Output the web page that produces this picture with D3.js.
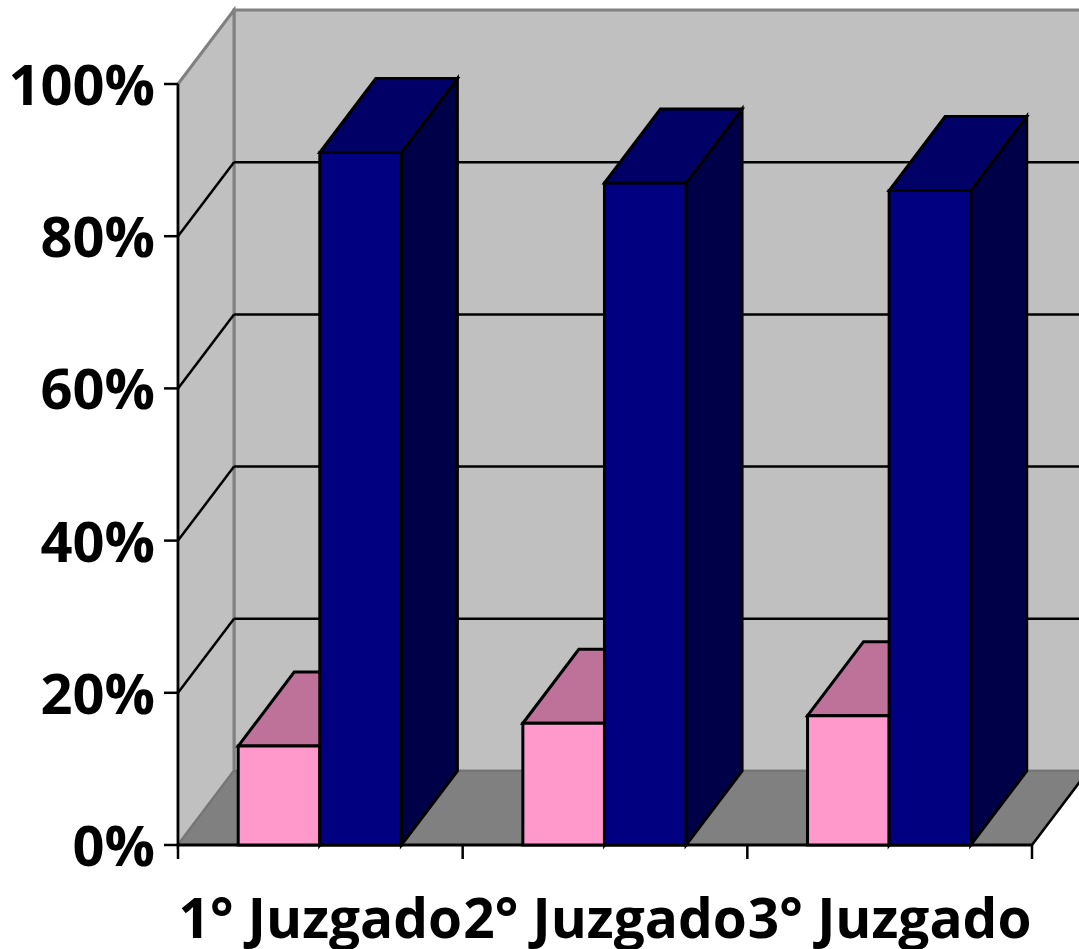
<!DOCTYPE html>
<html><head><meta charset="utf-8">
<script src="https://cdn.jsdelivr.net/npm/d3@7"></script>
<style>html,body{margin:0;padding:0;background:#fff;overflow:hidden}svg{display:block}</style></head>
<body><svg id="c" width="1079" height="949"></svg>
<script>
const categories = ["1° Juzgado","2° Juzgado","3° Juzgado"];
const pinkValues = [0.13,0.16,0.17];
const blueValues = [0.91,0.87,0.86];
const tickValues = [0,0.2,0.4,0.6,0.8,1];

const svg = d3.select("#c");
const font = "'Open Sans','Noto Sans',sans-serif";
const dx = 56, dy = -74;
const y = d3.scaleLinear().domain([0,1]).range([845,84]);
const x = d3.scaleBand().domain(categories).range([178,1032]).paddingInner(0).paddingOuter(0);
const bw = 81.6;
const poly = (pts,fill,stroke,sw) => svg.append("polygon").attr("points",pts.map(p=>p.join(",")).join(" "))
  .attr("fill",fill).attr("stroke",stroke).attr("stroke-width",sw).attr("stroke-linejoin","miter");
const line = (a,b,stroke,sw) => svg.append("line").attr("x1",a[0]).attr("y1",a[1]).attr("x2",b[0]).attr("y2",b[1]).attr("stroke",stroke).attr("stroke-width",sw);

const xL = x.range()[0], xR = x.range()[1], y0 = y(0), y1 = y(1);
// walls
poly([[xL+dx,y1+dy],[xR+dx,y1+dy],[xR+dx,y0+dy],[xL+dx,y0+dy]],"#c0c0c0","#808080",3);
poly([[xL,y1],[xL+dx,y1+dy],[xL+dx,y0+dy],[xL,y0]],"#c0c0c0","#808080",3);
poly([[xL,y0],[xL+dx,y0+dy],[xR+dx,y0+dy],[xR,y0]],"#808080","#757575",2);
// gridlines
tickValues.filter(t=>t>0&&t<1).forEach(t=>{
  line([xL,y(t)],[xL+dx,y(t)+dy],"#000",2.5);
  line([xL+dx,y(t)+dy],[xR+dx,y(t)+dy],"#000",2.5);
});
// axis lines
line([xL,y1],[xL,y0+1],"#000",2.5);
line([xL,y0],[xR,y0],"#000",3);
line([xR,y0],[xR+dx,y0+dy],"#000",2.5);
tickValues.forEach(t=>line([xL-14,y(t)],[xL,y(t)],"#000",2.5));
d3.range(categories.length+1).forEach(i=>line([xL+i*x.step(),y0],[xL+i*x.step(),y0+14],"#000",2.5));

function bar(left,v,front,top,side){
  const t=y(v);
  poly([[left+bw,t],[left+bw+dx,t+dy],[left+bw+dx,y0+dy],[left+bw,y0]],side,"#000",3);
  poly([[left,t],[left+dx,t+dy],[left+bw+dx,t+dy],[left+bw,t]],top,"#000",3);
  poly([[left,t],[left+bw,t],[left+bw,y0],[left,y0]],front,"#000",3);
}
categories.forEach((c,i)=>{
  const l = x(c)+60.2;
  bar(l,pinkValues[i],"#ff99cc","#bf7299","#bf7299");
  bar(l+bw,blueValues[i],"#000080","#000066","#000048");
});
// labels
svg.selectAll("text.y").data(tickValues).join("text").attr("class","y")
  .attr("x",155).attr("y",d=>y(d)+21).attr("text-anchor","end")
  .attr("font-family",font).attr("font-weight",700).attr("font-size",56)
  .text(d=>d3.format(".0%")(d));
svg.selectAll("text.x").data(categories).join("text").attr("class","x")
  .attr("x",d=>x(d)+x.step()/2).attr("y",938).attr("text-anchor","middle")
  .attr("font-family",font).attr("font-weight",700).attr("font-size",55)
  .text(d=>d);
</script></body></html>
